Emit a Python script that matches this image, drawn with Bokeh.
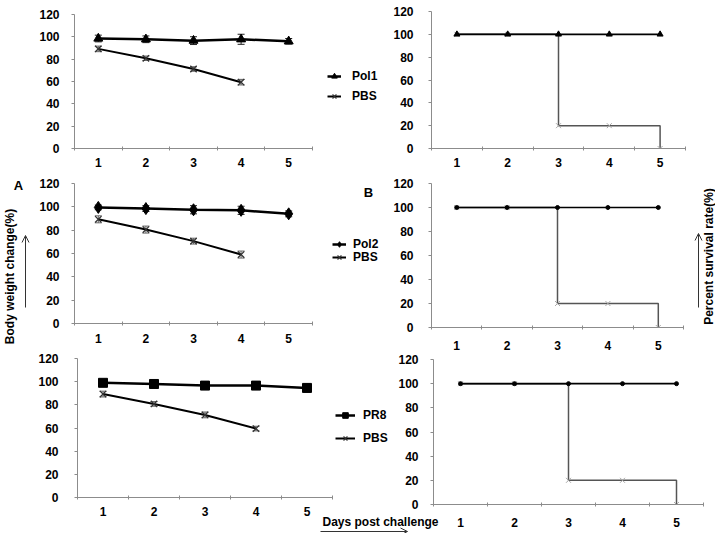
import math
from bokeh.plotting import figure
from bokeh.models import (Range1d, FixedTicker, Legend, LegendItem, Whisker, TeeHead,
                          ColumnDataSource, Label, Arrow, OpenHead, GridBox)
from bokeh.embed import file_html
from bokeh.resources import INLINE

# ---------------- data ----------------
days = [1, 2, 3, 4, 5]
pbs_days = [1, 2, 3, 4]
day_labels = ["1", "2", "3", "4", "5"]
y_ticks = [0, 20, 40, 60, 80, 100, 120]
x_bounds = [0.5, 1.5, 2.5, 3.5, 4.5, 5.5]

pol1_weight = [98.5, 97.8, 96.6, 97.8, 96.0]
pol1_err = [3.0, 3.0, 3.5, 4.5, 2.5]
pbs1_weight = [89.2, 80.8, 71.2, 59.4]
pbs1_err = [2.5, 2.0, 2.0, 2.5]

pol2_weight = [99.5, 98.5, 97.5, 97.0, 94.0]
pol2_err = [2.0, 2.5, 3.5, 3.5, 2.5]
pbs2_weight = [89.3, 80.5, 70.6, 59.1]
pbs2_err = [3.0, 3.0, 2.5, 3.0]

pr8_weight = [99.0, 98.0, 96.6, 96.6, 94.6]
pr8_err = [3.0, 2.5, 2.0, 3.0, 3.5]
pbs3_weight = [89.3, 80.8, 71.3, 59.5]
pbs3_err = [2.5, 2.0, 2.5, 2.0]

vacc_survival = [100, 100, 100, 100, 100]
pbs_survival = [100, 100, 20, 20, 0]

# ---------------- layout helpers ----------------
W, H = 715, 533
FONT = "Liberation Sans"
AXIS_GREY = "#8c8c8c"


def X(r):
    return int(round(r))


def Y(r):
    return int(round(r))


def base_fig(cl, ct, cr, cb, xr, yr):
    f = figure(width=cr - cl, height=cb - ct, x_range=xr, y_range=yr,
               output_backend="svg", toolbar_location=None,
               x_axis_location=None, y_axis_location=None, min_border=0,
               outline_line_color=None, background_fill_alpha=0, border_fill_alpha=0,
               frame_align=False)
    f.grid.visible = False
    f.margin = (ct, 0, 0, cl)
    return f


def make_panel(frame, canvas_right_ref, xlab_gap, ylab_gap):
    l, t, r, b = X(frame[0]), max(7, Y(frame[1])), X(frame[2]), Y(frame[3])
    cl = max(0, l - 60)
    ct = max(0, t - 12)
    cr = min(W, X(canvas_right_ref))
    cb = min(H, b + 30)
    p = figure(width=cr - cl, height=cb - ct,
               x_range=Range1d(0.5, 5.5), y_range=Range1d(0, 120),
               output_backend="svg", toolbar_location=None,
               min_border_left=l - cl, min_border_right=cr - r,
               min_border_top=t - ct, min_border_bottom=cb - b,
               background_fill_alpha=0, border_fill_alpha=0,
               outline_line_color=None, frame_align=False)
    p.margin = (ct, 0, 0, cl)
    p.grid.visible = False
    xa = p.xaxis[0]
    xa.ticker = FixedTicker(ticks=days, minor_ticks=x_bounds)
    xa.major_label_overrides = {d: s for d, s in zip(days, day_labels)}
    xa.major_tick_in = 0
    xa.major_tick_out = 0
    xa.minor_tick_in = 2
    xa.minor_tick_out = 2
    xa.major_label_standoff = xlab_gap
    ya = p.yaxis[0]
    ya.ticker = FixedTicker(ticks=y_ticks, minor_ticks=[])
    ya.major_tick_in = 0
    ya.major_tick_out = 3
    ya.major_label_standoff = ylab_gap
    for ax in (xa, ya):
        ax.axis_line_color = AXIS_GREY
        ax.major_tick_line_color = AXIS_GREY
        ax.minor_tick_line_color = AXIS_GREY
        ax.major_label_text_font = FONT
        ax.major_label_text_font_style = "bold"
        ax.major_label_text_font_size = "12px"
        ax.major_label_text_color = "black"
    return p


def legend_fig(entries, x0, gw, standoff):
    # entries: (label, source, marker, marker_size, marker_color, line_width, y_center_ref)
    top = min(e[6] for e in entries) - 12
    bot = max(e[6] for e in entries) + 12
    cl, ct, cr, cb = X(x0 - 4), Y(top), X(402), Y(bot)
    # range chosen so that the (shared) data lies outside the frame: only legend glyphs show
    f = base_fig(cl, ct, cr, cb, Range1d(100, 101), Range1d(1000, 1001))
    for label, src, marker, msize, mcol, lw, yc in entries:
        ln = f.line("x", "y", source=src, line_color="black", line_width=lw)
        if marker == "x":
            mk = f.scatter("x", "y", source=src, marker="x", size=msize,
                           line_color=mcol, line_width=1.3)
        else:
            mk = f.scatter("x", "y", source=src, marker=marker, size=msize, color=mcol)
        lg = Legend(items=[LegendItem(label=label, renderers=[ln, mk])],
                    location=(X(x0) - cl, cb - (Y(yc) + 7)),
                    orientation="vertical", padding=0, margin=0, spacing=0,
                    glyph_width=gw, glyph_height=14, label_height=14,
                    label_standoff=standoff,
                    border_line_alpha=0, background_fill_alpha=0,
                    label_text_font=FONT, label_text_font_style="bold",
                    label_text_font_size="12px", label_text_color="black")
        f.add_layout(lg)
    return f


def weight_panel(frame, xgap, ygap, vac, vac_err, pbs, pbs_err, marker, msize, name,
                 leg_y, leg_x0, leg_gw, leg_so):
    p = make_panel(frame, 398, xgap, ygap)
    sp = ColumnDataSource(dict(x=pbs_days, y=pbs,
                               upper=[v + e for v, e in zip(pbs, pbs_err)],
                               lower=[v - e for v, e in zip(pbs, pbs_err)]))
    sv = ColumnDataSource(dict(x=days, y=vac,
                               upper=[v + e for v, e in zip(vac, vac_err)],
                               lower=[v - e for v, e in zip(vac, vac_err)]))
    for src, col in ((sp, "#666666"), (sv, "#222222")):
        wk = Whisker(source=src, base="x", upper="upper", lower="lower",
                     line_color=col, line_width=1,
                     upper_head=TeeHead(size=7, line_color=col, line_width=1),
                     lower_head=TeeHead(size=7, line_color=col, line_width=1))
        p.add_layout(wk)
    p.line("x", "y", source=sp, line_color="black", line_width=2)
    p.scatter("x", "y", source=sp, marker="x", size=9, line_color="#333333", line_width=1.3)
    p.line("x", "y", source=sv, line_color="black", line_width=2.5)
    p.scatter("x", "y", source=sv, marker=marker, size=msize, color="black")
    lf = legend_fig([(name, sv, marker, msize, "black", 2.5, leg_y[0]),
                     ("PBS", sp, "x", 9, "#333333", 2, leg_y[1])], leg_x0, leg_gw, leg_so)
    return [p, lf]


def survival_panel(frame, xgap, ygap, marker, msize, right_ref):
    p = make_panel(frame, right_ref, xgap, ygap)
    p.step(days, pbs_survival, mode="after", line_color="#555555", line_width=1.5)
    p.scatter(days, pbs_survival, marker="x", size=7, line_color="#a8a8a8", line_width=1)
    p.line(days, vacc_survival, line_color="black", line_width=1.6)
    p.scatter(days, vacc_survival, marker=marker, size=msize, color="black")
    return [p]


panels = []
panels += weight_panel((74, 14, 312, 148), 7, 12, pol1_weight, pol1_err, pbs1_weight, pbs1_err,
                       "triangle", 9, "Pol1", (76, 96), 327, 14, 11)
panels += survival_panel((431, 11, 685, 148), 7, 15, "triangle", 6, 695)
panels += weight_panel((74, 183, 312, 323), 8, 12, pol2_weight, pol2_err, pbs2_weight, pbs2_err,
                       "diamond", 12, "Pol2", (244, 257), 332, 14, 7)
panels += survival_panel((431, 183, 683, 327), 11, 15, "circle", 4, 693)
panels += weight_panel((77, 358, 332, 497), 7, 16, pr8_weight, pr8_err, pbs3_weight, pbs3_err,
                       "square", 9, "PR8", (415, 438), 335, 20, 8)
panels += survival_panel((433, 359, 703, 504), 11, 12, "circle", 4, 713)

# ---------------- background annotations ----------------
bg = base_fig(0, 0, W, H, Range1d(0, W), Range1d(H, 0))


def lab(x, y, text, angle=0.0, align="center", size="12px"):
    bg.add_layout(Label(x=x, y=y, text=text, angle=angle, text_align=align,
                        text_baseline="middle", text_font=FONT, text_font_style="bold",
                        text_font_size=size, text_color="black"))


lab(X(18), Y(185), "A", size="13px")
lab(X(368), Y(192), "B", size="13px")
lab(max(7, X(9)), Y(276), "Body weight change(%)", angle=math.pi / 2)
lab(min(W - 7, X(712)), Y(256), "Percent survival rate(%)", angle=math.pi / 2)
lab(X(322), Y(521), "Days post challenge", align="left")

for xs, ys, xe, ye in [(25, 307, 25, 235), (698, 307, 698, 233), (320, 532, 407, 532)]:
    bg.add_layout(Arrow(x_start=X(xs), y_start=min(H - 2, Y(ys)), x_end=X(xe),
                        y_end=min(H - 2, Y(ye)),
                        line_color="#333333", line_width=1,
                        end=OpenHead(size=7, line_color="#333333", line_width=1)))

root = GridBox(children=[(bg, 0, 0)] + [(p, 0, 0) for p in panels])

open("out.html", "w").write(file_html(root, INLINE))
